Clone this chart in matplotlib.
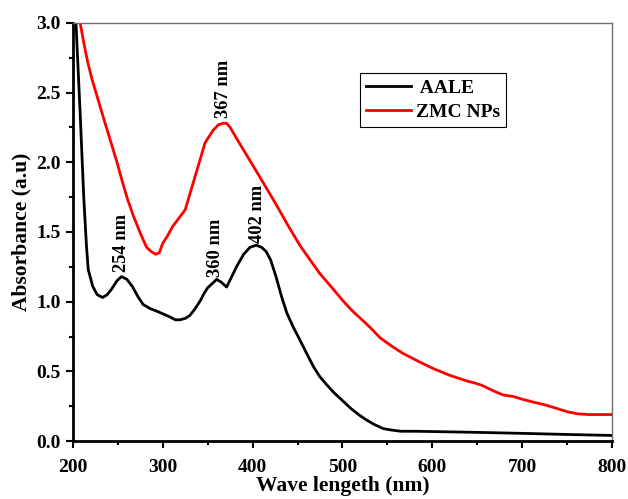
import matplotlib
matplotlib.use("Agg")
import matplotlib.pyplot as plt
from matplotlib.ticker import MultipleLocator

plt.rcParams["font.family"] = ["Liberation Serif", "DejaVu Serif"]
plt.rcParams["font.weight"] = "bold"

# AALE spectrum
aale_wl = [203, 208, 212, 215, 217, 222, 227, 233, 238, 243, 249, 254, 260, 266,
           272, 278, 286, 294, 301, 308, 314, 319, 325, 330, 336, 342, 346, 350,
           355, 360, 365, 371, 376, 382, 390, 397, 404, 410, 415, 420, 426, 432,
           438, 445, 453, 460, 468, 475, 483, 490, 500, 510, 520, 527, 535, 545,
           553, 565, 580, 600, 650, 700, 750, 800]
aale_abs = [3.05, 2.35, 1.75, 1.40, 1.23, 1.11, 1.05, 1.03, 1.05, 1.09, 1.15, 1.18,
            1.16, 1.11, 1.04, 0.98, 0.95, 0.93, 0.91, 0.89, 0.87, 0.87, 0.88, 0.90,
            0.95, 1.01, 1.06, 1.10, 1.13, 1.16, 1.14, 1.105, 1.17, 1.25, 1.34, 1.39,
            1.405, 1.39, 1.36, 1.30, 1.18, 1.04, 0.92, 0.82, 0.72, 0.63, 0.53, 0.46,
            0.40, 0.35, 0.29, 0.23, 0.18, 0.15, 0.12, 0.09, 0.08, 0.07, 0.07, 0.068,
            0.062, 0.055, 0.047, 0.040]

# ZMC NPs spectrum
zmc_wl = [205, 208, 212, 216, 221, 227, 233, 241, 249, 255, 261, 267, 275, 282,
          287, 292, 296, 300, 305, 311, 318, 325, 330, 336, 342, 347, 352, 356,
          362, 367, 371, 375, 385, 400, 413, 425, 440, 453, 465, 475, 487, 500,
          510, 520, 530, 542, 555, 567, 585, 601, 620, 639, 648, 655, 668, 679,
          690, 700, 712, 725, 738, 750, 762, 773, 785, 800]
zmc_abs = [3.10, 3.00, 2.86, 2.73, 2.60, 2.47, 2.34, 2.17, 2.00, 1.86, 1.73, 1.62,
           1.49, 1.39, 1.36, 1.34, 1.35, 1.42, 1.47, 1.54, 1.60, 1.66, 1.77, 1.90,
           2.03, 2.14, 2.19, 2.23, 2.27, 2.28, 2.28, 2.25, 2.14, 1.98, 1.84, 1.71,
           1.54, 1.40, 1.29, 1.20, 1.11, 1.01, 0.94, 0.88, 0.82, 0.74, 0.68, 0.63,
           0.57, 0.52, 0.47, 0.43, 0.415, 0.40, 0.36, 0.33, 0.32, 0.30, 0.28, 0.26,
           0.235, 0.21, 0.195, 0.19, 0.19, 0.19]

peak_labels = ["254 nm", "360 nm", "402 nm", "367 nm"]
peak_x = [254, 359, 405, 368]
peak_y = [1.21, 1.18, 1.42, 2.32]

fig = plt.figure(figsize=(6.28, 4.99), dpi=100)
ax = fig.add_axes([0.1162, 0.1162, 0.8583, 0.8378])

ax.plot(aale_wl, aale_abs, color="black", lw=2, label=" AALE")
ax.plot(zmc_wl, zmc_abs, color="red", lw=2, label="ZMC NPs")

for txt, px, py in zip(peak_labels, peak_x, peak_y):
    ax.text(px, py, txt, rotation=90, ha="center", va="bottom",
            fontsize=13.3, fontweight="bold")

ax.set_xlim(200, 800)
ax.set_ylim(0, 3.0)
ax.xaxis.set_major_locator(MultipleLocator(100))
ax.xaxis.set_minor_locator(MultipleLocator(50))
ax.yaxis.set_major_locator(MultipleLocator(0.5))
ax.yaxis.set_minor_locator(MultipleLocator(0.25))
ax.yaxis.set_major_formatter(matplotlib.ticker.FormatStrFormatter("%.1f"))

ax.tick_params(which="both", direction="out", width=1.5, labelsize=14,
               top=False, right=False)
ax.tick_params(which="major", length=5)
ax.tick_params(which="minor", length=3)
ax.tick_params(axis="x", which="major", pad=8)
ax.tick_params(axis="y", which="major", pad=4)
for lab in ax.get_xticklabels() + ax.get_yticklabels():
    lab.set_fontweight("bold")

for s in ["left", "bottom"]:
    ax.spines[s].set_linewidth(2)
    ax.spines[s].set_color("black")
for s in ["top", "right"]:
    ax.spines[s].set_linewidth(1)
    ax.spines[s].set_color("#707070")

ax.set_xlabel("Wave lengeth (nm)", fontsize=15.5, fontweight="bold", labelpad=0)
ax.set_ylabel("Absorbance (a.u)", fontsize=15.5, fontweight="bold", labelpad=3)

leg = ax.legend(loc="upper left", bbox_to_anchor=(0.5325, 0.88), fancybox=False,
                edgecolor="black", framealpha=1, fontsize=14, handlelength=2.3,
                handletextpad=0.3, borderpad=0.3, labelspacing=0.35,
                borderaxespad=0)
leg.get_frame().set_linewidth(0.8)
for t in leg.get_texts():
    t.set_fontweight("bold")

fig.savefig("out.png", dpi=100)
